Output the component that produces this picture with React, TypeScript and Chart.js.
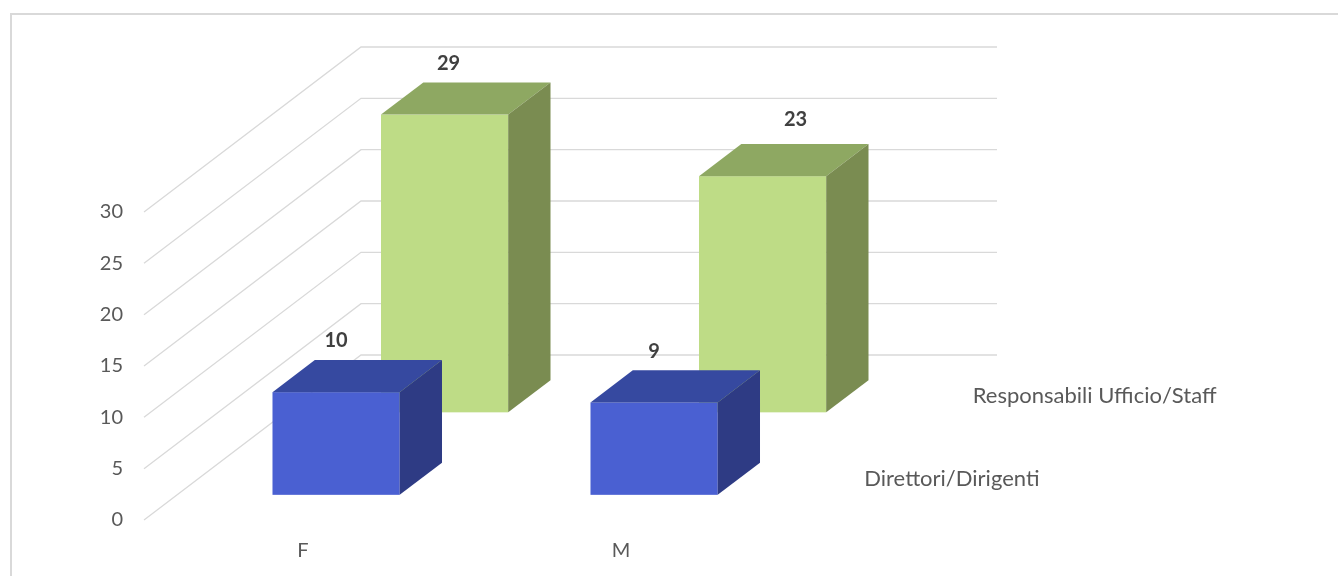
import React, { useEffect, useRef } from "react";
import { Chart, registerables } from "chart.js";

Chart.register(...registerables);

const categories = ["F", "M"];
const seriesNames = ["Direttori/Dirigenti", "Responsabili Ufficio/Staff"];
const direttoriValues = [10, 9];
const responsabiliValues = [29, 23];
const yMin = 0;
const yMax = 30;
const yStep = 5;

const FONT = "Lato, 'Open Sans', sans-serif";
const TEXT_COLOR = "#595959";
const GRID_COLOR = "#D9D9D9";

const FACE_COLORS = [
  { front: "#4A60D2", top: "#3649A0", side: "#2E3B84" },
  { front: "#BEDC86", top: "#8EA862", side: "#7A8C51" },
];

// depth of the 3D floor in pixels
const DEPTH_X = 217;
const DEPTH_Y = -165;
const BAR_DEPTH = 0.195;
const BAR_WIDTH_FRAC = 0.4;
const LABEL_NUDGE_X = [
  [0, 0],
  [4, 33],
];
const LABEL_NUDGE_Y = [
  [0, 0],
  [0, -5],
];

const bar3dPlugin = {
  id: "bar3d",
  beforeDatasetsDraw(chart: any) {
    const { ctx, chartArea, scales } = chart;
    const x = scales.x;
    const y = scales.y;
    const n = chart.data.datasets.length;
    ctx.save();
    // gridlines: diagonal side wall + back wall
    ctx.strokeStyle = GRID_COLOR;
    ctx.lineWidth = 1.3;
    y.ticks.forEach((t: any) => {
      const py = y.getPixelForValue(t.value);
      ctx.beginPath();
      ctx.moveTo(chartArea.left, py);
      ctx.lineTo(chartArea.left + DEPTH_X, py + DEPTH_Y);
      ctx.lineTo(chartArea.right + DEPTH_X, py + DEPTH_Y);
      ctx.stroke();
    });
    const catW = (chartArea.right - chartArea.left) / categories.length;
    const w = catW * BAR_WIDTH_FRAC;
    const y0 = y.getPixelForValue(0);
    for (let r = n - 1; r >= 0; r--) {
      const ds = chart.data.datasets[r];
      const zc = (r + 0.5) / n;
      const z0 = zc - BAR_DEPTH / 2;
      const ox = z0 * DEPTH_X;
      const oy = z0 * DEPTH_Y;
      const bx = BAR_DEPTH * DEPTH_X;
      const by = BAR_DEPTH * DEPTH_Y;
      const col = FACE_COLORS[r];
      ds.data.forEach((v: number, i: number) => {
        const cx = x.getPixelForValue(i);
        const x1 = cx - w / 2 + ox;
        const x2 = cx + w / 2 + ox;
        const top = y.getPixelForValue(v) + oy;
        const bottom = y0 + oy;
        // front
        ctx.fillStyle = col.front;
        ctx.fillRect(x1, top, x2 - x1, bottom - top);
        // top
        ctx.fillStyle = col.top;
        ctx.beginPath();
        ctx.moveTo(x1, top);
        ctx.lineTo(x2, top);
        ctx.lineTo(x2 + bx, top + by);
        ctx.lineTo(x1 + bx, top + by);
        ctx.closePath();
        ctx.fill();
        // side
        ctx.fillStyle = col.side;
        ctx.beginPath();
        ctx.moveTo(x2, top);
        ctx.lineTo(x2 + bx, top + by);
        ctx.lineTo(x2 + bx, bottom + by);
        ctx.lineTo(x2, bottom);
        ctx.closePath();
        ctx.fill();
      });
    }
    ctx.restore();
  },
  afterDatasetsDraw(chart: any) {
    const { ctx, chartArea, scales } = chart;
    const x = scales.x;
    const y = scales.y;
    const n = chart.data.datasets.length;
    const y0 = y.getPixelForValue(0);
    ctx.save();
    for (let r = 0; r < n; r++) {
      const ds = chart.data.datasets[r];
      const zc = (r + 0.5) / n;
      const z0 = zc - BAR_DEPTH / 2;
      const ox = z0 * DEPTH_X;
      const oy = z0 * DEPTH_Y;
      const by = BAR_DEPTH * DEPTH_Y;
      ctx.font = `bold 20px ${FONT}`;
      ctx.fillStyle = "#404040";
      ctx.textAlign = "center";
      ctx.textBaseline = "middle";
      ds.data.forEach((v: number, i: number) => {
        const cx = x.getPixelForValue(i) + ox;
        const top = y.getPixelForValue(v) + oy + by;
        ctx.fillText(
          String(v),
          cx + LABEL_NUDGE_X[r][i],
          top - 19 + LABEL_NUDGE_Y[r][i]
        );
      });
      // series (depth axis) label
      ctx.font = `22px ${FONT}`;
      ctx.fillStyle = TEXT_COLOR;
      ctx.textAlign = "left";
      ctx.fillText(
        ds.label,
        chartArea.right + zc * DEPTH_X + 30,
        y0 + zc * DEPTH_Y
      );
    }
    ctx.restore();
  },
};

export default function App() {
  const canvasRef = useRef<HTMLCanvasElement | null>(null);

  useEffect(() => {
    if (!canvasRef.current) return;
    const chart = new Chart(canvasRef.current, {
      type: "bar",
      data: {
        labels: categories,
        datasets: [
          {
            label: seriesNames[0],
            data: direttoriValues,
            backgroundColor: "rgba(0,0,0,0)",
          },
          {
            label: seriesNames[1],
            data: responsabiliValues,
            backgroundColor: "rgba(0,0,0,0)",
          },
        ],
      },
      options: {
        responsive: false,
        animation: false,
        layout: { padding: { top: 212, right: 558, left: 0, bottom: 0 } },
        plugins: {
          legend: { display: false },
          tooltip: { enabled: false },
        },
        scales: {
          x: {
            type: "category",
            grid: { display: false, drawTicks: false },
            border: { display: false },
            ticks: {
              color: TEXT_COLOR,
              font: { family: FONT, size: 20 },
              padding: 19,
            },
            afterFit: (s: any) => {
              s.height = 56;
            },
          },
          y: {
            min: yMin,
            max: yMax,
            grid: { display: false, drawTicks: false },
            border: { display: false },
            ticks: {
              stepSize: yStep,
              color: TEXT_COLOR,
              font: { family: FONT, size: 20 },
              padding: 21,
            },
            afterFit: (s: any) => {
              s.width = 144;
            },
          },
        },
      },
      plugins: [bar3dPlugin],
    });
    return () => chart.destroy();
  }, []);

  return (
    <div
      style={{
        position: "fixed",
        left: 0,
        top: 0,
        width: 1338,
        height: 576,
        background: "#fff",
        overflow: "hidden",
      }}
    >
      <div
        style={{
          position: "absolute",
          left: 10,
          top: 13,
          width: 1400,
          height: 700,
          border: "2px solid #D9D9D9",
          boxSizing: "border-box",
        }}
      />
      <canvas
        ref={canvasRef}
        width={1338}
        height={576}
        style={{ position: "absolute", left: 0, top: 0 }}
      />
    </div>
  );
}
